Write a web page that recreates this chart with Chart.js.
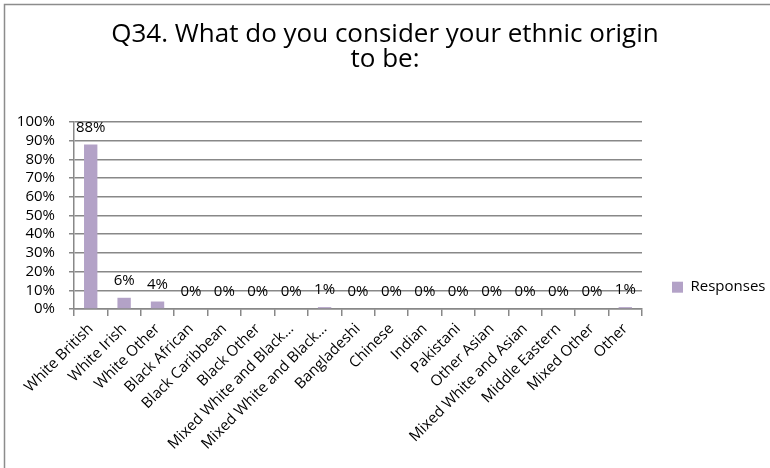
<!DOCTYPE html>
<html>
<head>
<meta charset="utf-8">
<script src="https://cdn.jsdelivr.net/npm/chart.js@4/dist/chart.umd.min.js"></script>
<style>
    html, body { margin: 0; padding: 0; background: #ffffff; }
    #wrap { width: 770px; height: 468px; }
</style>
</head>
<body>
<div id="wrap"><canvas id="ethnicChart" width="770" height="468"></canvas></div>
<script>
// Q34 ethnic origin responses (percent of respondents)
const categories = [
    'White British', 'White Irish', 'White Other', 'Black African', 'Black Caribbean',
    'Black Other', 'Mixed White and Black…', 'Mixed White and Black…', 'Bangladeshi',
    'Chinese', 'Indian', 'Pakistani', 'Other Asian', 'Mixed White and Asian',
    'Middle Eastern', 'Mixed Other', 'Other'
];
const responses = [88, 6, 4, 0, 0, 0, 0, 1, 0, 0, 0, 0, 0, 0, 0, 0, 1];
const titleLines = ['Q34. What do you consider your ethnic origin', 'to be:'];
const seriesName = 'Responses';

const FONT = '"Open Sans", "Noto Sans", sans-serif';
const GRID = '#888888';
const BAR = '#b3a2c7';

// outer frame around the whole chart
const framePlugin = {
    id: 'frame',
    beforeDraw(chart) {
        const ctx = chart.ctx;
        ctx.save();
        ctx.strokeStyle = '#8c8c8c';
        ctx.lineWidth = 1.5;
        ctx.strokeRect(4.5, 4.5, chart.width + 20, chart.height + 20);
        ctx.restore();
    }
};

// percentage label above each bar
const valueLabels = {
    id: 'valueLabels',
    afterDatasetsDraw(chart) {
        const ctx = chart.ctx;
        const meta = chart.getDatasetMeta(0);
        ctx.save();
        ctx.font = '15px ' + FONT;
        ctx.fillStyle = '#000000';
        ctx.textAlign = 'center';
        ctx.textBaseline = 'middle';
        meta.data.forEach((bar, i) => {
            ctx.fillText(responses[i] + '%', bar.x, bar.y - 17);
        });
        ctx.restore();
    }
};

new Chart(document.getElementById('ethnicChart'), {
    type: 'bar',
    data: {
        labels: categories,
        datasets: [{
            label: seriesName,
            data: responses,
            backgroundColor: BAR,
            borderWidth: 0,
            categoryPercentage: 1,
            barPercentage: 0.4
        }]
    },
    options: {
        responsive: false,
        animation: false,
        layout: { padding: 0 },
        scales: {
            x: {
                grid: {
                    display: true,
                    offset: true,
                    drawOnChartArea: false,
                    drawTicks: true,
                    tickLength: 7,
                    color: GRID,
                    lineWidth: 1.5
                },
                border: { display: true, color: GRID, width: 1.5 },
                ticks: {
                    minRotation: 45,
                    maxRotation: 45,
                    autoSkip: false,
                    padding: 4,
                    color: '#000000',
                    font: { family: FONT, size: 15 }
                },
                afterFit(scale) { scale.height = 159; }
            },
            y: {
                min: 0,
                max: 100,
                grid: {
                    color: GRID,
                    lineWidth: 1.5,
                    tickLength: 5
                },
                border: { display: true, color: GRID, width: 1.5 },
                ticks: {
                    stepSize: 10,
                    autoSkip: false,
                    padding: 14,
                    color: '#000000',
                    font: { family: FONT, size: 15 },
                    callback: v => v + '%'
                },
                afterFit(scale) { scale.width = 74; }
            }
        },
        plugins: {
            title: {
                display: true,
                text: titleLines,
                color: '#000000',
                font: { family: FONT, size: 26, weight: 'normal', lineHeight: 25 / 26 },
                padding: { top: 22, bottom: 50 }
            },
            legend: {
                display: true,
                position: 'right',
                align: 'center',
                maxWidth: 128,
                title: { display: true, text: '', font: { size: 12 }, padding: { top: 92, bottom: 0 } },
                labels: {
                    boxWidth: 11,
                    boxHeight: 11,
                    padding: 30,
                    color: '#000000',
                    font: { family: FONT, size: 15 }
                }
            },
            tooltip: { enabled: false }
        }
    },
    plugins: [framePlugin, valueLabels]
});
</script>
</body>
</html>
